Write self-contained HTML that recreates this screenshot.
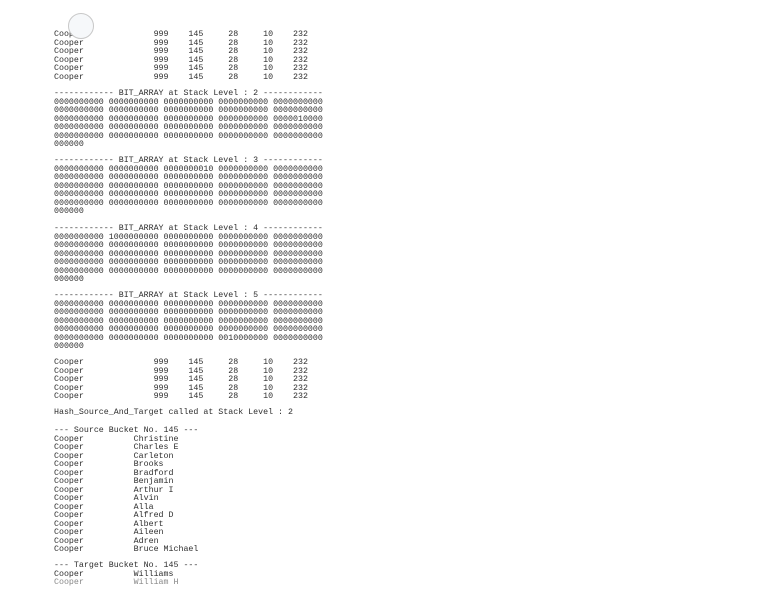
<!DOCTYPE html>
<html><head><meta charset="utf-8"><style>
html,body{margin:0;padding:0;background:#fff;width:760px;height:589px;overflow:hidden;position:relative}
#w{position:absolute;left:0;top:1px;width:760px;height:589px}
.l{position:absolute;left:54px;font-family:"Liberation Mono",monospace;font-size:8.3px;line-height:8px;color:#2e2e2e;white-space:pre}
.c{position:absolute;left:68px;top:12px;width:24px;height:24px;border-radius:50%;border:1px solid #c8c8c8;background:#f6f8fa}
</style></head><body><div id="w">
<div class="l" style="top:30px">Cooper              999    145     28     10    232</div>
<div class="l" style="top:38.5px">Cooper              999    145     28     10    232</div>
<div class="l" style="top:47px">Cooper              999    145     28     10    232</div>
<div class="l" style="top:55.5px">Cooper              999    145     28     10    232</div>
<div class="l" style="top:64px">Cooper              999    145     28     10    232</div>
<div class="l" style="top:72.5px">Cooper              999    145     28     10    232</div>
<div class="c"></div>

<div class="l" style="top:89px">------------ BIT_ARRAY at Stack Level : 2 ------------</div>
<div class="l" style="top:97.5px">0000000000 0000000000 0000000000 0000000000 0000000000</div>
<div class="l" style="top:106px">0000000000 0000000000 0000000000 0000000000 0000000000</div>
<div class="l" style="top:114.5px">0000000000 0000000000 0000000000 0000000000 0000010000</div>
<div class="l" style="top:123px">0000000000 0000000000 0000000000 0000000000 0000000000</div>
<div class="l" style="top:131.5px">0000000000 0000000000 0000000000 0000000000 0000000000</div>
<div class="l" style="top:140px">000000</div>

<div class="l" style="top:156px">------------ BIT_ARRAY at Stack Level : 3 ------------</div>
<div class="l" style="top:164.5px">0000000000 0000000000 0000000010 0000000000 0000000000</div>
<div class="l" style="top:173px">0000000000 0000000000 0000000000 0000000000 0000000000</div>
<div class="l" style="top:181.5px">0000000000 0000000000 0000000000 0000000000 0000000000</div>
<div class="l" style="top:190px">0000000000 0000000000 0000000000 0000000000 0000000000</div>
<div class="l" style="top:198.5px">0000000000 0000000000 0000000000 0000000000 0000000000</div>
<div class="l" style="top:207px">000000</div>

<div class="l" style="top:224px">------------ BIT_ARRAY at Stack Level : 4 ------------</div>
<div class="l" style="top:232.5px">0000000000 1000000000 0000000000 0000000000 0000000000</div>
<div class="l" style="top:241px">0000000000 0000000000 0000000000 0000000000 0000000000</div>
<div class="l" style="top:249.5px">0000000000 0000000000 0000000000 0000000000 0000000000</div>
<div class="l" style="top:258px">0000000000 0000000000 0000000000 0000000000 0000000000</div>
<div class="l" style="top:266.5px">0000000000 0000000000 0000000000 0000000000 0000000000</div>
<div class="l" style="top:275px">000000</div>

<div class="l" style="top:291px">------------ BIT_ARRAY at Stack Level : 5 ------------</div>
<div class="l" style="top:299.5px">0000000000 0000000000 0000000000 0000000000 0000000000</div>
<div class="l" style="top:308px">0000000000 0000000000 0000000000 0000000000 0000000000</div>
<div class="l" style="top:316.5px">0000000000 0000000000 0000000000 0000000000 0000000000</div>
<div class="l" style="top:325px">0000000000 0000000000 0000000000 0000000000 0000000000</div>
<div class="l" style="top:333.5px">0000000000 0000000000 0000000000 0010000000 0000000000</div>
<div class="l" style="top:342px">000000</div>

<div class="l" style="top:358px">Cooper              999    145     28     10    232</div>
<div class="l" style="top:366.5px">Cooper              999    145     28     10    232</div>
<div class="l" style="top:375px">Cooper              999    145     28     10    232</div>
<div class="l" style="top:383.5px">Cooper              999    145     28     10    232</div>
<div class="l" style="top:392px">Cooper              999    145     28     10    232</div>

<div class="l" style="top:408px">Hash_Source_And_Target called at Stack Level : 2</div>

<div class="l" style="top:426px">--- Source Bucket No. 145 ---</div>
<div class="l" style="top:434.5px">Cooper          Christine</div>
<div class="l" style="top:443px">Cooper          Charles E</div>
<div class="l" style="top:451.5px">Cooper          Carleton</div>
<div class="l" style="top:460px">Cooper          Brooks</div>
<div class="l" style="top:468.5px">Cooper          Bradford</div>
<div class="l" style="top:477px">Cooper          Benjamin</div>
<div class="l" style="top:485.5px">Cooper          Arthur I</div>
<div class="l" style="top:494px">Cooper          Alvin</div>
<div class="l" style="top:502.5px">Cooper          Alla</div>
<div class="l" style="top:511px">Cooper          Alfred D</div>
<div class="l" style="top:519.5px">Cooper          Albert</div>
<div class="l" style="top:528px">Cooper          Aileen</div>
<div class="l" style="top:536.5px">Cooper          Adren</div>
<div class="l" style="top:545px">Cooper          Bruce Michael</div>

<div class="l" style="top:561px">--- Target Bucket No. 145 ---</div>
<div class="l" style="top:569.5px">Cooper          Williams</div>
<div class="l" style="top:578px;color:#888">Cooper          William H</div>
</div></body></html>
